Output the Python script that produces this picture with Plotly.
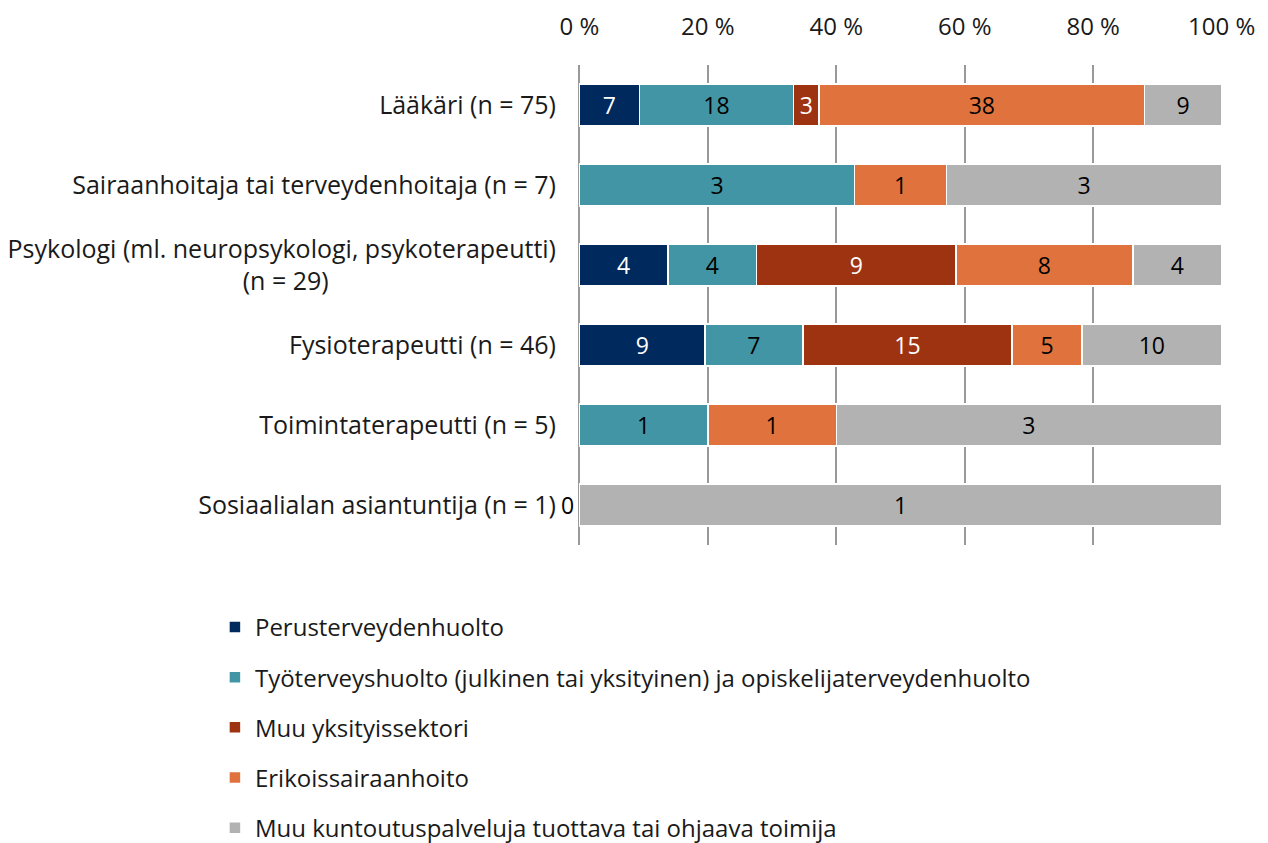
import plotly.graph_objects as go

categories = [
    "Lääkäri (n = 75)",
    "Sairaanhoitaja tai terveydenhoitaja (n = 7)",
    "Psykologi (ml. neuropsykologi, psykoterapeutti)<br>(n = 29)",
    "Fysioterapeutti (n = 46)",
    "Toimintaterapeutti (n = 5)",
    "Sosiaalialan asiantuntija (n = 1)",
]
series_names = [
    "Perusterveydenhuolto",
    "Työterveyshuolto (julkinen tai yksityinen) ja opiskelijaterveydenhuolto",
    "Muu yksityissektori",
    "Erikoissairaanhoito",
    "Muu kuntoutuspalveluja tuottava tai ohjaava toimija",
]
perusterveydenhuolto = [7, 0, 4, 9, 0, 0]
tyoterveyshuolto = [18, 3, 4, 7, 1, 0]
muu_yksityissektori = [3, 0, 9, 15, 0, 0]
erikoissairaanhoito = [38, 1, 8, 5, 1, 0]
muu_toimija = [9, 3, 4, 10, 3, 1]
series_values = [perusterveydenhuolto, tyoterveyshuolto, muu_yksityissektori,
                 erikoissairaanhoito, muu_toimija]
colors = ["#002A5E", "#4195A4", "#9E3311", "#E0733D", "#B2B2B2"]
text_colors = ["white", "black", "white", "black", "black"]
tick_vals = [0, 20, 40, 60, 80, 100]
tick_text = ["0 %", "20 %", "40 %", "60 %", "80 %", "100 %"]

# center the second line of the multi-line label with padding
pad = "\u00a0" * 35
cat_labels = [c.replace("<br>(n = 29)", "<br>(n = 29)" + pad) for c in categories]

font_family = "Open Sans, Noto Sans, sans-serif"

fig = go.Figure()
for name, vals, col, tcol in zip(series_names, series_values, colors, text_colors):
    texts = [str(v) if v > 0 else "" for v in vals]
    fig.add_trace(go.Bar(
        name=name, y=cat_labels, x=vals, orientation="h",
        marker=dict(color=col, line=dict(color="white", width=1.5)),
        text=texts, textposition="inside", insidetextanchor="middle",
        textfont=dict(color=tcol, size=23, family=font_family),
        constraintext="none", cliponaxis=False,
        legendgroup=name, hoverinfo="skip",
    ))

# zero label for the single-respondent row (first series value)
last = len(categories) - 1
fig.add_annotation(x=0, y=cat_labels[last], text=str(perusterveydenhuolto[last]),
                   xref="x", yref="y", showarrow=False, xanchor="right", xshift=-3,
                   font=dict(size=23, color="black", family=font_family))

fig.update_layout(
    barmode="stack", barnorm="percent", bargap=0.475,
    width=1268, height=843,
    margin=dict(l=571, r=54, t=57, b=306, autoexpand=False),
    plot_bgcolor="white", paper_bgcolor="white",
    font=dict(family=font_family, color="#1a1a1a", size=24),
    xaxis=dict(side="top", range=[-0.06, 100.06], tickvals=tick_vals, ticktext=tick_text,
               showgrid=True, gridcolor="#999999", gridwidth=2,
               zeroline=True, zerolinecolor="#999999", zerolinewidth=2,
               showline=False, tickfont=dict(size=24), ticks="",
               ticklabelstandoff=24, fixedrange=True, automargin=False),
    yaxis=dict(autorange="reversed", showgrid=False, showline=False, ticks="",
               zeroline=False,
               tickfont=dict(size=25), ticklabelstandoff=22, fixedrange=True,
               automargin=False),
    legend=dict(orientation="v", xref="container", yref="container",
                x=0.1632, xanchor="left", y=0.292, yanchor="top",
                font=dict(size=24), traceorder="grouped", tracegroupgap=16,
                itemwidth=30, bgcolor="rgba(0,0,0,0)"),
    showlegend=True,
)
fig.write_html("out.html")
